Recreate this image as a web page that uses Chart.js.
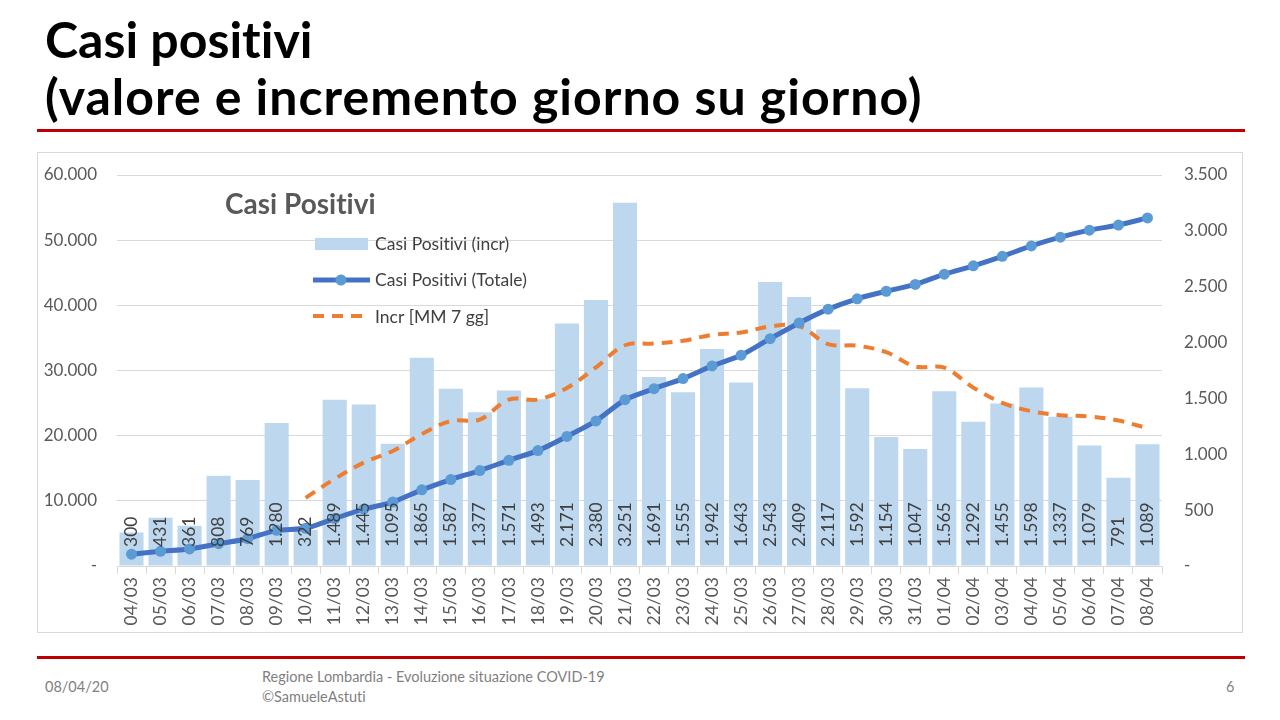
<!doctype html>
<html>
<head>
<meta charset="utf-8">
<script src="https://cdn.jsdelivr.net/npm/chart.js@4.4.1/dist/chart.umd.min.js"></script>
<style>
  body { margin: 0; width: 1280px; height: 720px; background: #fff; position: relative; overflow: hidden; font-family: Lato, "Open Sans", sans-serif; font-variant-ligatures: none; }
  h1 { position: absolute; left: 45px; top: 11px; margin: 0; font-size: 50px; line-height: 57px; font-weight: 700; color: #000; }
  h1 span { letter-spacing: 1px; }
  .rule { position: absolute; left: 37px; width: 1208px; height: 3px; background: #c00000; }
  #box { position: absolute; left: 37px; top: 152px; width: 1206px; height: 481px; border: 1px solid #d9d9d9; box-sizing: border-box; }
  .foot { position: absolute; color: #7f7f7f; font-size: 14.5px; line-height: 20px; }
</style>
</head>
<body>
<h1>Casi positivi<br><span>(valore e incremento giorno su giorno)</span></h1>
<div class="rule" style="top:129px"></div>
<div id="box"><canvas id="chart" width="1204" height="479"></canvas></div>
<div class="rule" style="top:656px"></div>
<div class="foot" style="left:45px;top:677px">08/04/20</div>
<div class="foot" style="left:262px;top:667px">Regione Lombardia - Evoluzione situazione COVID-19<br>©SamueleAstuti</div>
<div class="foot" style="left:1226px;top:677px">6</div>

<script>
const giorni = ['04/03', '05/03', '06/03', '07/03', '08/03', '09/03', '10/03', '11/03', '12/03', '13/03',
  '14/03', '15/03', '16/03', '17/03', '18/03', '19/03', '20/03', '21/03', '22/03', '23/03', '24/03',
  '25/03', '26/03', '27/03', '28/03', '29/03', '30/03', '31/03', '01/04', '02/04', '03/04', '04/04',
  '05/04', '06/04', '07/04', '08/04']

// incremento giorno su giorno (asse destro)
const incr = [300, 431, 361, 808, 769, 1280, 322, 1489, 1445, 1095, 1865, 1587, 1377, 1571, 1493,
  2171, 2380, 3251, 1691, 1555, 1942, 1643, 2543, 2409, 2117, 1592, 1154, 1047, 1565, 1292, 1455,
  1598, 1337, 1079, 791, 1089]

// totale casi positivi (asse sinistro)
const totale = [1820, 2251, 2612, 3420, 4189, 5469, 5791, 7280, 8725, 9820, 11685, 13272, 14649,
  16220, 17713, 19884, 22264, 25515, 27206, 28761, 30703, 32346, 34889, 37298, 39415, 41007, 42161,
  43208, 44773, 46065, 47520, 49118, 50455, 51534, 52325, 53414]

// media mobile 7 giorni (asse destro)
const media7 = [null, null, null, null, null, null, 610, 780, 925, 1030, 1181, 1298, 1311, 1490,
  1490, 1594, 1778, 1976, 1991, 2016, 2069, 2090, 2144, 2148, 1986, 1972, 1914, 1786, 1775, 1597,
  1460, 1386, 1350, 1339, 1302, 1234]

const sxMax = 60000, sxStep = 10000
const dxMax = 3500, dxStep = 500

const legenda = ['Casi Positivi (incr)', 'Casi Positivi (Totale)', 'Incr [MM 7 gg]']

const fmt = v => v === 0 ? '-' : String(v).replace(/\B(?=(\d{3})+(?!\d))/g, '.')

const GRIGIO = '#595959'

// il padding dei tick non deve spostare l'area del grafico
const fissa = w => s => { s.width = w; s.paddingTop = 10; s.paddingBottom = 10 }

const etichette = {
  id: 'etichette',
  afterDatasetsDraw(chart) {
    const ctx = chart.ctx
    const meta = chart.getDatasetMeta(2)
    ctx.save()
    ctx.font = '17.5px Lato'
    ctx.fillStyle = '#404040'
    ctx.textAlign = 'left'
    ctx.textBaseline = 'middle'
    meta.data.forEach((bar, i) => {
      ctx.save()
      ctx.translate(bar.x, chart.chartArea.bottom - 19)
      ctx.rotate(-Math.PI / 2)
      ctx.fillText(fmt(incr[i]), 0, 0)
      ctx.restore()
    })
    ctx.restore()
  }
}

const riquadro = {
  id: 'riquadro',
  afterDraw(chart) {
    const ctx = chart.ctx
    const l = chart.chartArea.left, t = chart.chartArea.top
    ctx.save()
    ctx.fillStyle = GRIGIO
    ctx.font = 'bold 28px Lato'
    ctx.textBaseline = 'middle'
    ctx.fillText('Casi Positivi', l + 108, t + 30)

    // barre
    ctx.fillStyle = '#bdd7ee'
    ctx.fillRect(l + 198, t + 63, 53, 12)
    // totale
    ctx.strokeStyle = '#4472c4'
    ctx.lineWidth = 5
    ctx.beginPath(); ctx.moveTo(l + 196, t + 105); ctx.lineTo(l + 253, t + 105); ctx.stroke()
    ctx.fillStyle = '#5b9bd5'
    ctx.beginPath(); ctx.arc(l + 224, t + 105, 5.5, 0, Math.PI * 2); ctx.fill()
    // media
    ctx.strokeStyle = '#ed7d31'
    ctx.lineWidth = 4
    ctx.setLineDash([11, 8])
    ctx.beginPath(); ctx.moveTo(l + 196, t + 141); ctx.lineTo(l + 250, t + 141); ctx.stroke()
    ctx.setLineDash([])

    ctx.font = '17.5px Lato'
    ctx.fillStyle = '#404040'
    legenda.forEach((txt, i) => ctx.fillText(txt, l + 258, t + 69 + i * 36.5))
    ctx.restore()
  }
}

new Chart(document.getElementById('chart'), {
  data: {
    labels: giorni,
    datasets: [
      {
        type: 'line', label: legenda[1], data: totale, yAxisID: 'y', order: 0,
        borderColor: '#4472c4', borderWidth: 5, tension: 0.25,
        pointRadius: 5.5, pointBackgroundColor: '#5b9bd5', pointBorderWidth: 0
      },
      {
        type: 'line', label: legenda[2], data: media7, yAxisID: 'y1', order: 1,
        borderColor: '#ed7d31', borderWidth: 4, borderDash: [11, 8], tension: 0.35,
        pointRadius: 0
      },
      {
        type: 'bar', label: legenda[0], data: incr, yAxisID: 'y1', order: 2,
        backgroundColor: '#bdd7ee', barPercentage: 0.83, categoryPercentage: 1
      }
    ]
  },
  options: {
    responsive: false,
    animation: false,
    layout: { padding: { top: 22, left: 0, right: 0, bottom: 0 } },
    plugins: { legend: { display: false }, tooltip: { enabled: false } },
    scales: {
      x: {
        offset: true,
        grid: { offset: true, drawOnChartArea: false, tickLength: 8, color: '#d9d9d9' },
        border: { color: '#d9d9d9' },
        ticks: { minRotation: 90, maxRotation: 90, autoSkip: false, color: GRIGIO, font: { family: 'Lato', size: 17.5 }, padding: 3 },
        afterFit: s => { s.height = 66 }
      },
      y: {
        position: 'left', min: 0, max: sxMax,
        ticks: { stepSize: sxStep, callback: fmt, color: GRIGIO, font: { family: 'Lato', size: 17 }, padding: 20 },
        grid: { color: '#d9d9d9', drawTicks: false },
        border: { display: false },
        afterFit: fissa(79)
      },
      y1: {
        position: 'right', min: 0, max: dxMax,
        ticks: { stepSize: dxStep, callback: fmt, color: GRIGIO, font: { family: 'Lato', size: 17 }, padding: 22 },
        grid: { drawOnChartArea: false, drawTicks: false },
        border: { display: false },
        afterFit: fissa(80)
      }
    }
  },
  plugins: [etichette, riquadro]
})
</script>
</body>
</html>
